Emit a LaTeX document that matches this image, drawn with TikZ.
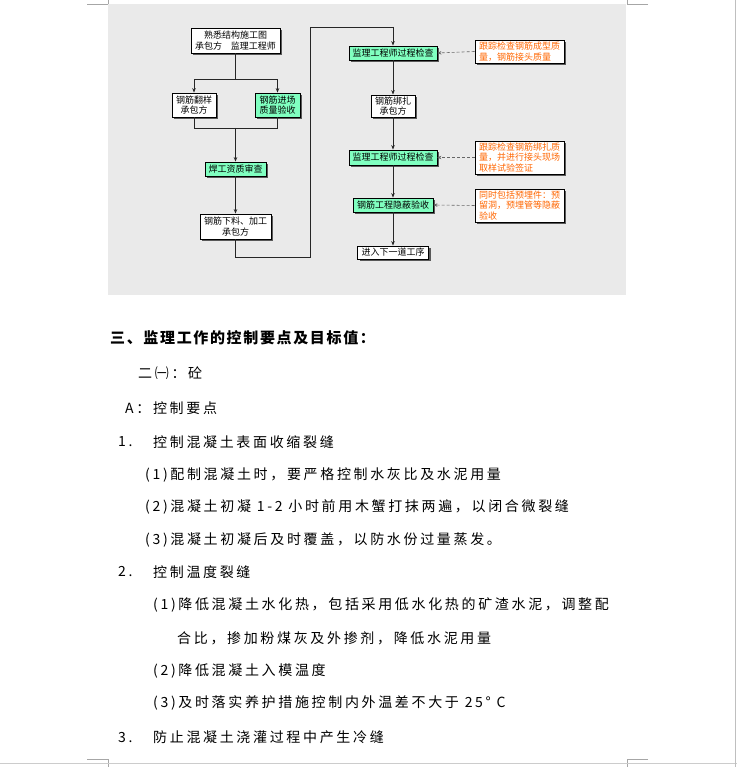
\documentclass[tikz,border=0pt]{standalone}
\usepackage{fontspec}
\usetikzlibrary{shadows,arrows.meta}
\newfontfamily\cjk{Noto Sans CJK SC}
\newfontfamily\cjkbody[LetterSpace=19]{Noto Sans CJK SC}
\newfontfamily\cjkhead[LetterSpace=11]{Noto Sans CJK SC}
\definecolor{mint}{RGB}{128,255,192}
\definecolor{org}{RGB}{255,102,0}
\definecolor{bgtex}{RGB}{234,234,234}
\tikzset{
  fbox/.style={draw=black, line width=0.8pt, inner sep=0pt, align=center,
    font=\cjk\fontsize{9}{10.5}\selectfont,
    drop shadow={shadow xshift=2pt, shadow yshift=-2pt, fill=black!65, opacity=1}},
  wbox/.style={fbox, fill=white},
  gbox/.style={fbox, fill=mint},
  nbox/.style={fbox, fill=white, align=left, text=org, minimum width=89pt},
  conn/.style={draw=black!85, line width=0.8pt},
  arr/.style={conn, -{Stealth[length=4.5pt,width=3.5pt]}},
  darr/.style={draw=black!60, line width=0.6pt, densely dashed, -{Stealth[length=4pt,width=3.5pt]}},
  body/.style={anchor=west, inner sep=0pt, font=\cjkbody\fontsize{14}{14}\selectfont},
  head/.style={anchor=west, inner sep=0pt, font=\cjkhead\bfseries\fontsize{15}{15}\selectfont},
  pgmark/.style={draw=black!35, line width=0.6pt}
}
\begin{document}
\begin{tikzpicture}[x=1pt,y=-1pt]
\useasboundingbox (0,0) rectangle (737,767);
\fill[white] (0,0) rectangle (737,767);
% page marks
\draw[pgmark] (87,4) -- (108,4) -- (108,0);
\draw[pgmark] (648,4) -- (627,4) -- (627,0);
\draw[pgmark] (87,759) -- (108,759) -- (108,767);
\draw[pgmark] (648,759) -- (627,759) -- (627,767);
\draw[draw=black!20, line width=0.8pt] (0,763) -- (737,763);
\draw[draw=black!25, line width=0.6pt] (735,0) -- (735,767);
% textured background
\fill[bgtex] (108,4) rectangle (626,295);
% left column
\node[wbox, minimum width=89pt, minimum height=25pt] (b1) at (235.5,40.5) {熟悉结构施工图\\承包方\quad 监理工程师};
\node[wbox, minimum width=44pt, minimum height=24pt] (b2) at (194,105) {钢筋翻样\\承包方};
\node[gbox, minimum width=45pt, minimum height=24pt] (b3) at (277.5,105) {钢筋进场\\质量验收};
\node[gbox, minimum width=61pt, minimum height=14pt] (b4) at (235.5,169) {焊工资质审查};
\node[wbox, minimum width=71pt, minimum height=25pt] (b5) at (235.5,226.5) {钢筋下料、加工\\承包方};
% right column
\node[gbox, minimum width=88pt, minimum height=14pt] (b6) at (393,53) {监理工程师过程检查};
\node[wbox, minimum width=44pt, minimum height=22pt] (b7) at (393,106) {钢筋绑扎\\承包方};
\node[gbox, minimum width=88pt, minimum height=15pt] (b8) at (393,157.5) {监理工程师过程检查};
\node[gbox, minimum width=80pt, minimum height=14pt] (b9) at (393,205) {钢筋工程隐蔽验收};
\node[wbox, minimum width=71pt, minimum height=13pt] (b10) at (393,252.5) {进入下一道工序};
% notes
\node[nbox, minimum height=23pt] (n1) at (519.5,51.5) {跟踪检查钢筋成型质\\量，钢筋接头质量};
\node[nbox, minimum height=33pt] (n2) at (519.5,157.5) {跟踪检查钢筋绑扎质\\量，并进行接头现场\\取样试验签证};
\node[nbox, minimum height=33pt] (n3) at (519.5,205.5) {同时包括预埋件：预\\留洞，预埋管等隐蔽\\验收};
% connectors
\coordinate (j1) at (235.5,79);
\coordinate (j2) at (235.5,128);
\coordinate (c1) at (235.5,257);
\coordinate (c2) at (310,257);
\coordinate (c3) at (310,27);
\coordinate (c4) at (393,27);
\draw[conn] (b1.south) -- (j1);
\draw[arr] (j1) -| (b2.north);
\draw[arr] (j1) -| (b3.north);
\draw[conn] (b2.south) |- (j2);
\draw[conn] (b3.south) |- (j2);
\draw[arr] (j2) -- (b4.north);
\draw[arr] (b4.south) -- (b5.north);
\draw[conn] (b5.south) -- (c1) -- (c2) -- (c3) -- (c4);
\draw[arr] (c4) -- (b6.north);
\draw[arr] (b6.south) -- (b7.north);
\draw[arr] (b7.south) -- (b8.north);
\draw[arr] (b8.south) -- (b9.north);
\draw[arr] (b9.south) -- (b10.north);
\draw[darr] (n1.west) -- (b6.east);
\draw[darr] (n2.west) -- (b8.east);
\draw[darr] (n3.west) -- (b9.east);
% body text
\node[head] (h) at (110,338) {三、监理工作的控制要点及目标值：};
\node[body] (s1) at (138,373) {二㈠：砼};
\node[body] (s2) at (125,408) {A：控制要点};
\node[body] (n1a) at (118,442) {1.};
\node[body] (l1) at (153,442) {控制混凝土表面收缩裂缝};
\node[body] (l11) at (145,475) {(1)配制混凝土时，要严格控制水灰比及水泥用量};
\node[body] (l12) at (145,507) {(2)混凝土初凝 1-2 小时前用木蟹打抹两遍，以闭合微裂缝};
\node[body] (l13) at (145,540) {(3)混凝土初凝后及时覆盖，以防水份过量蒸发。};
\node[body] (n2a) at (118,572) {2.};
\node[body] (l2) at (153,572) {控制温度裂缝};
\node[body] (l21) at (153,605) {(1)降低混凝土水化热，包括采用低水化热的矿渣水泥，调整配};
\node[body] (l21b) at (177,638) {合比，掺加粉煤灰及外掺剂，降低水泥用量};
\node[body] (l22) at (153,671) {(2)降低混凝土入模温度};
\node[body] (l23) at (153,703) {(3)及时落实养护措施控制内外温差不大于 25° C};
\node[body] (n3a) at (118,737) {3.};
\node[body] (l3) at (153,737) {防止混凝土浇灌过程中产生冷缝};
\end{tikzpicture}
\end{document}
